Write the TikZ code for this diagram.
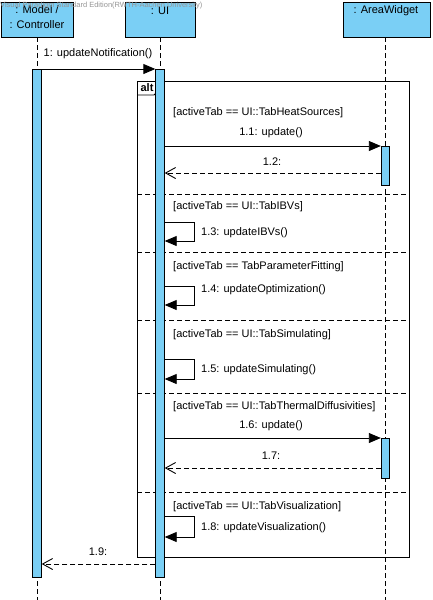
\documentclass[tikz,border=0pt]{standalone}
\usepackage{fontspec}
\setmainfont{Liberation Sans}
\usetikzlibrary{arrows.meta,calc}
\definecolor{lifefill}{RGB}{122,207,245}
\definecolor{markgray}{RGB}{150,150,150}
\tikzset{
  lifebox/.style={draw, fill=lifefill, line width=0.9pt, inner sep=0pt},
  actbar/.style={draw, fill=lifefill, line width=0.9pt, inner sep=0pt, anchor=north, minimum width=8.5pt},
  lifeline/.style={line width=0.9pt, dash pattern=on 5pt off 3pt},
  divider/.style={line width=0.9pt, dash pattern=on 5pt off 3pt},
  callmsg/.style={line width=0.9pt, -{Triangle[length=12pt,width=10pt]}},
  retmsg/.style={line width=0.9pt, dash pattern=on 5pt off 3pt, -{Straight Barb[length=10pt,width=11pt]}},
  lbl/.style={font=\fontsize{11}{13}\selectfont, inner sep=0pt},
  guard/.style={lbl, anchor=west},
  wmtext/.style={font=\fontsize{7.5}{9}\selectfont, text=markgray, inner sep=0pt, anchor=west}
}
\begin{document}
\begin{tikzpicture}[x=1pt,y=-1pt]
\useasboundingbox (0,0) rectangle (433,600);
\fill[white] (0,0) rectangle (433,600);

% lifelines
\draw[lifeline] (37,37) -- (37,600);
\draw[lifeline] (160,37) -- (160,600);
\draw[lifeline] (385.5,37) -- (385.5,600);

% participant heads
\node[lifebox, minimum width=72pt, minimum height=35pt, anchor=north west] (mc) at (1,2) {};
\node[lbl] (mcA) at (37,10) {: Model /};
\node[lbl] (mcB) at (37,25) {: Controller};
\node[lifebox, minimum width=70pt, minimum height=35pt, anchor=north west] (ui) at (125,2) {};
\node[lbl] (uiT) at (160,10.5) {: UI};
\node[lifebox, minimum width=87.5pt, minimum height=35pt, anchor=north west] (aw) at (342.5,2) {};
\node[lbl] (awT) at (386,11) {: AreaWidget};

\node[wmtext] (wm) at (0,6) {Visual Paradigm Standard Edition(RWTH-Aachen University)};

% alt combined fragment
\draw[line width=0.9pt] (137,81) rectangle (409,557);
\draw[line width=0.9pt] (137,95) -- (154,95) -- (158,91) -- (158,81);
\node[lbl, font=\fontsize{11}{13}\selectfont\bfseries] (altT) at (147,88) {alt};
\foreach \yy in {194,252,320,393,492}
  \draw[divider] (137,\yy) -- (409,\yy);

% activation bars
\node[actbar, minimum height=508pt] (mBar) at (37,69) {};
\node[actbar, minimum height=508pt] (uBar) at (160,69) {};
\node[actbar, minimum height=39pt] (aBarA) at (385.5,146) {};
\node[actbar, minimum height=40pt] (aBarB) at (385.5,438) {};

% message 1
\coordinate (m1s) at (mBar.east |- 0,69);
\coordinate (m1e) at (uBar.west |- 0,69);
\draw[callmsg] (m1s) -- (m1e);
\node[lbl] (m1L) at (98,54) {1: updateNotification()};

% guards
\node[guard] (g1) at (173,113) {[activeTab == UI::TabHeatSources]};
\node[guard] (g2) at (173,207) {[activeTab == UI::TabIBVs]};
\node[guard] (g3) at (173,267) {[activeTab == TabParameterFitting]};
\node[guard] (g4) at (173,335) {[activeTab == UI::TabSimulating]};
\node[guard] (g5) at (173,407) {[activeTab == UI::TabThermalDiffusivities]};
\node[guard] (g6) at (173,507) {[activeTab == UI::TabVisualization]};

% 1.1 / 1.2
\coordinate (c11s) at (uBar.east |- 0,146);
\coordinate (c11e) at (aBarA.west |- 0,146);
\draw[callmsg] (c11s) -- (c11e);
\node[lbl] (c11L) at (271,133) {1.1: update()};
\coordinate (r12s) at (aBarA.west |- 0,173);
\coordinate (r12e) at (uBar.east |- 0,173);
\draw[retmsg] (r12s) -- (r12e);
\node[lbl] (r12L) at (272,162) {1.2:};

% self calls
\foreach \nm/\ya/\yb/\yl/\txt in {
    s13/222/241/233/{1.3: updateIBVs()},
    s14/286/305/290/{1.4: updateOptimization()},
    s15/359/379/370/{1.5: updateSimulating()},
    s18/516/537/528/{1.8: updateVisualization()}}{
  \coordinate (\nm a) at (uBar.east |- 0,\ya);
  \coordinate (\nm b) at (uBar.east |- 0,\yb);
  \draw[callmsg] (\nm a) -- ++(30,0) |- (\nm b);
  \node[lbl, anchor=west] (\nm L) at (201,\yl) {\txt};
}

% 1.6 / 1.7
\coordinate (c16s) at (uBar.east |- 0,438);
\coordinate (c16e) at (aBarB.west |- 0,438);
\draw[callmsg] (c16s) -- (c16e);
\node[lbl] (c16L) at (271,426) {1.6: update()};
\coordinate (r17s) at (aBarB.west |- 0,468);
\coordinate (r17e) at (uBar.east |- 0,468);
\draw[retmsg] (r17s) -- (r17e);
\node[lbl] (r17L) at (271,456) {1.7:};

% 1.9
\coordinate (r19s) at (uBar.west |- 0,564);
\coordinate (r19e) at (mBar.east |- 0,564);
\draw[retmsg] (r19s) -- (r19e);
\node[lbl] (r19L) at (98,552) {1.9:};
\end{tikzpicture}
\end{document}
